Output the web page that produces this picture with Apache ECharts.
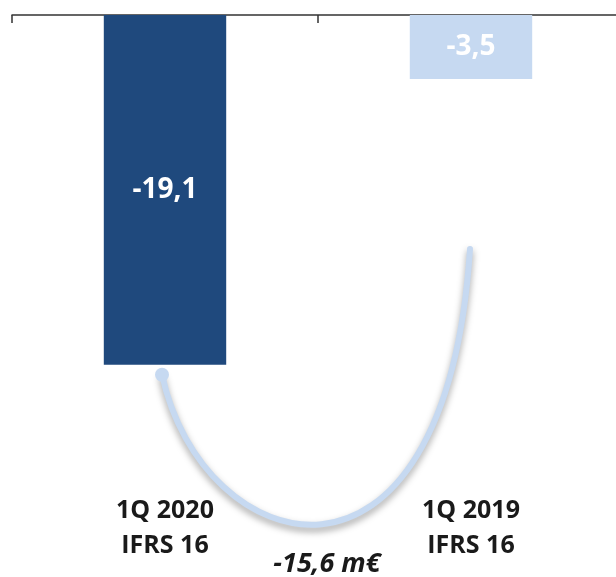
<!DOCTYPE html>
<html>
<head>
<meta charset="utf-8">
<script src="https://cdn.jsdelivr.net/npm/echarts@6/dist/echarts.min.js"></script>
<style>
  html, body { margin: 0; padding: 0; background: #fff; }
  #main { width: 616px; height: 577px; }
</style>
</head>
<body>
<div id="main"></div>
<script>
var categories = ['1Q 2020\nIFRS 16', '1Q 2019\nIFRS 16'];
var values = [-19.1, -3.5];
var barColors = ['#1f497d', '#c6d9f1'];

var myChart = echarts.init(document.getElementById('main'));

function fmt(v) {
    return v.toFixed(1).replace('.', ',');
}

var diff = values[0] - values[1];

var option = {
    backgroundColor: '#ffffff',
    animation: false,
    grid: { left: 12, width: 612, top: 15, bottom: 86, outerBoundsMode: 'none', containLabel: false },
    xAxis: [
        {   // axis line on top
            type: 'category',
            position: 'top',
            data: categories,
            axisLine: { show: true, lineStyle: { color: '#333', width: 1.5 } },
            axisTick: { show: true, inside: true, length: 8, lineStyle: { color: '#333', width: 1.5 } },
            axisLabel: { show: false }
        },
        {   // category labels at the bottom
            type: 'category',
            position: 'bottom',
            data: categories,
            axisLine: { show: false },
            axisTick: { show: false },
            axisLabel: {
                margin: 2,
                color: '#1a1a1a',
                fontFamily: 'Open Sans',
                fontWeight: 'bold',
                fontSize: 25,
                lineHeight: 35
            }
        }
    ],
    yAxis: {
        type: 'value',
        min: -26,
        max: 0,
        show: false
    },
    series: [
        {
            type: 'bar',
            barWidth: '40%',
            data: values.map(function (v, i) {
                return { value: v, itemStyle: { color: barColors[i] } };
            }),
            label: {
                show: true,
                position: 'inside',
                color: '#fff',
                fontFamily: 'Open Sans',
                fontWeight: 'bold',
                fontSize: 28,
                formatter: function (p) { return fmt(p.value); }
            }
        }
    ]
};
myChart.setOption(option);

// curved arrow between bars, anchored on the bar ends
var pA = myChart.convertToPixel({ gridIndex: 0 }, [0, values[0]]);
var pB = myChart.convertToPixel({ gridIndex: 0 }, [1, values[1]]);
var sx = pA[0] - 3, sy = pA[1] + 10;
var ex = pB[0] - 1, ey = pB[1] + 170;

myChart.setOption({
    graphic: [
        {
            type: 'bezierCurve',
            shape: {
                x1: sx, y1: sy,
                cpx1: sx + 40, cpy1: 560,
                cpx2: ex - 25, cpy2: 630,
                x2: ex, y2: ey
            },
            style: {
                stroke: '#c6d9f1',
                fill: null,
                lineWidth: 6,
                lineCap: 'round',
                shadowBlur: 7,
                shadowOffsetY: 4,
                shadowColor: 'rgba(0,0,0,0.35)'
            }
        },
        {
            type: 'circle',
            shape: { cx: sx, cy: sy, r: 7 },
            style: { fill: '#c6d9f1' }
        },
        {
            type: 'text',
            x: 327,
            y: 564,
            style: {
                text: fmt(diff) + ' m€',
                fill: '#1a1a1a',
                font: 'italic bold 27px "Open Sans"',
                align: 'center',
                verticalAlign: 'middle'
            }
        }
    ]
});
</script>
</body>
</html>
